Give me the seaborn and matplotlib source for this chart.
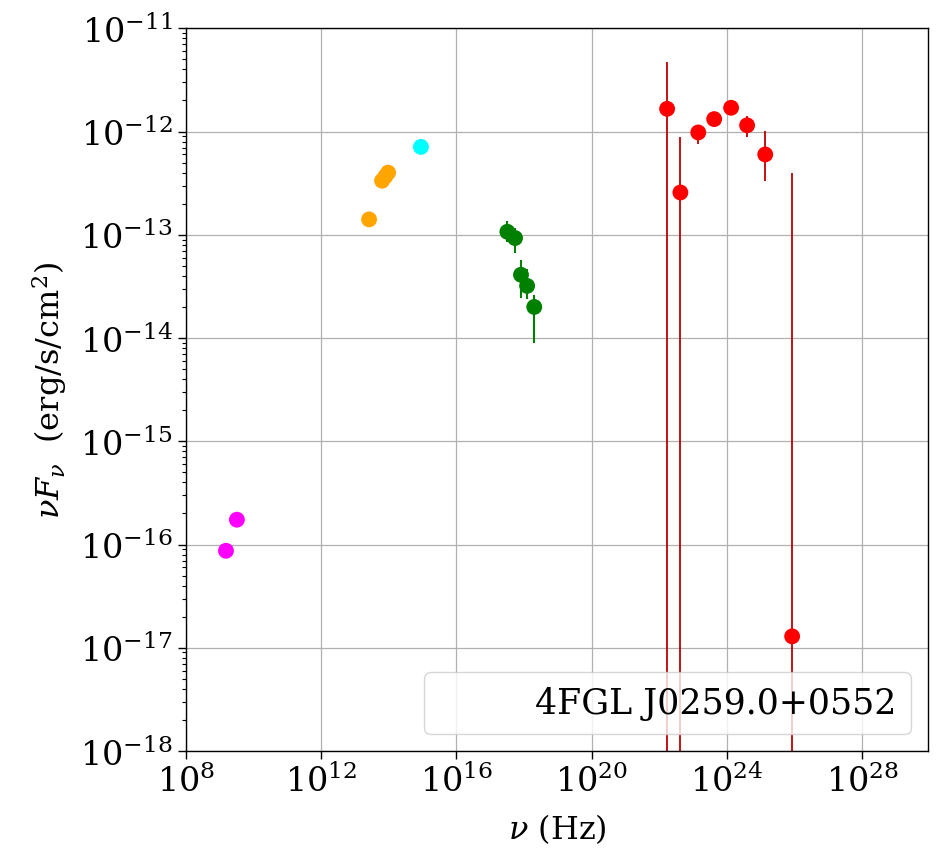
import numpy as np
import pandas as pd
import matplotlib
matplotlib.use("Agg")
import matplotlib.pyplot as plt
import matplotlib.ticker as mticker
import seaborn as sns

# ---- data ----
radio_nu = [1.52e9, 3.2e9]
radio_f = [8.7e-17, 1.74e-16]

ir_nu = [2.6e13, 6.3e13, 7.8e13, 9.5e13]
ir_f = [1.41e-13, 3.34e-13, 3.66e-13, 4.0e-13]

opt_nu = [8.9e14]
opt_f = [7.1e-13]

xray_nu = [3.2e17, 5.4e17, 8.1e17, 1.23e18, 2.0e18]
xray_f = [1.07e-13, 9.3e-14, 4.1e-14, 3.2e-14, 2.0e-14]
xray_elo = [2.2e-14, 2.7e-14, 1.65e-14, 0.8e-14, 1.1e-14]
xray_ehi = [2.8e-14, 2.4e-14, 1.65e-14, 1.5e-14, 0.6e-14]

gam_nu = [1.7e22, 4.2e22, 1.42e23, 4.2e23, 1.33e24, 3.95e24, 1.36e25, 8.5e25]
gam_f = [1.66e-12, 2.57e-13, 9.8e-13, 1.32e-12, 1.70e-12, 1.15e-12, 6.0e-13, 1.29e-17]
# lower error equal to the value -> bar reaches down to zero (off the log axis)
gam_elo = [1.66e-12, 2.57e-13, 2.2e-13, 1.5e-13, 1.5e-13, 2.6e-13, 2.7e-13, 1.29e-17]
gam_ehi = [3.1e-12, 6.3e-13, 1.1e-13, 1.5e-13, 1.5e-13, 2.6e-13, 4.2e-13, 4.0e-13]

source_name = "4FGL J0259.0+0552"
x_ticks = [1e8, 1e12, 1e16, 1e20, 1e24, 1e28]
y_ticks = [1e-18, 1e-17, 1e-16, 1e-15, 1e-14, 1e-13, 1e-12, 1e-11]

# ---- style ----
sns.set_style("ticks")
plt.rcParams["font.family"] = ["DejaVu Serif"]
plt.rcParams["mathtext.fontset"] = "dejavuserif"
plt.rcParams["text.color"] = "black"
plt.rcParams["axes.labelcolor"] = "black"
plt.rcParams["xtick.color"] = "black"
plt.rcParams["ytick.color"] = "black"

fig = plt.figure(figsize=(9.4, 8.62), dpi=100)
ax = fig.add_axes([0.1979, 0.1276, 0.7894, 0.8384])

groups = [
    (radio_nu, radio_f, "magenta"),
    (ir_nu, ir_f, "orange"),
    (opt_nu, opt_f, "cyan"),
    (xray_nu, xray_f, "green"),
    (gam_nu, gam_f, "red"),
]

ax.set_xscale("log")
ax.set_yscale("log")

ax.errorbar(xray_nu, xray_f, yerr=[xray_elo, xray_ehi], fmt="none",
            ecolor="green", elinewidth=1.5, zorder=2)
ax.errorbar(gam_nu, gam_f, yerr=[gam_elo, gam_ehi], fmt="none",
            ecolor="#c00000", elinewidth=1.3, zorder=2)

for nu, f, c in groups:
    df = pd.DataFrame({"nu": nu, "f": f})
    sns.scatterplot(data=df, x="nu", y="f", color=c, s=130, edgecolor="none",
                    ax=ax, zorder=3, legend=False)

ax.plot([], [], " ", label=source_name)

ax.set_xlim(1e8, 10 ** 29.95)
ax.set_ylim(1e-18, 1e-11)
ax.set_xticks(x_ticks)
ax.xaxis.set_minor_locator(mticker.NullLocator())
ax.set_yticks(y_ticks)
ax.yaxis.set_minor_locator(mticker.LogLocator(base=10, subs=np.arange(2, 10), numticks=100))
ax.yaxis.set_minor_formatter(mticker.NullFormatter())

ax.grid(True, which="major", color="#b0b0b0", linewidth=0.9)
ax.set_axisbelow(True)
for s in ax.spines.values():
    s.set_visible(True)
    s.set_color("black")
    s.set_linewidth(1.0)

ax.tick_params(axis="both", which="major", labelsize=24, length=6, width=1, direction="out")
ax.tick_params(axis="y", which="minor", length=3, width=0.8)

ax.set_xlabel(r"$\nu$ (Hz)", fontsize=23, labelpad=9)
ax.set_ylabel(r"$\nu F_\nu$  (erg/s/cm$^2$)", fontsize=23, labelpad=8)

leg = ax.legend(loc="lower right", fontsize=25, frameon=True, fancybox=True)
leg.get_frame().set_edgecolor("#cccccc")

fig.savefig("out.png", dpi=100)
